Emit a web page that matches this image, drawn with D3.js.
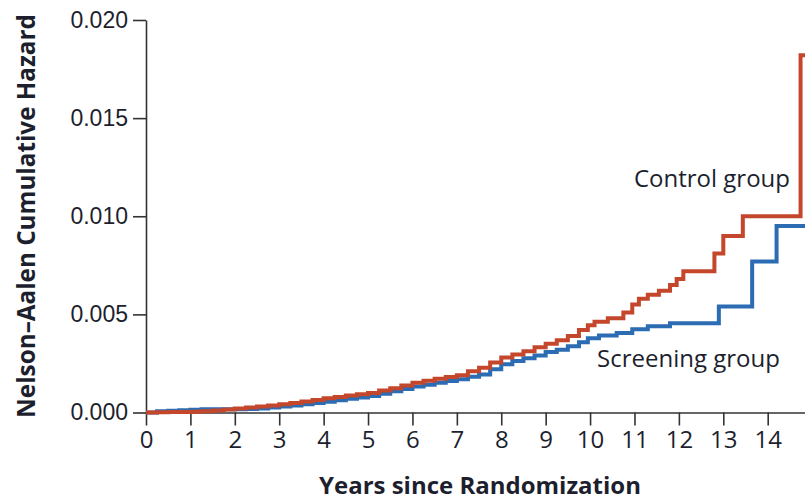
<!DOCTYPE html>
<html>
<head>
<meta charset="utf-8">
<script src="https://cdn.jsdelivr.net/npm/d3@7"></script>
<style>
  body { margin: 0; background: #fff; }
  svg { display: block; }
</style>
</head>
<body>
<script>
// Nelson-Aalen cumulative hazard (step-after points)
const controlYears = [0, 0.25, 0.5, 0.75, 1.0, 1.25, 1.5, 1.75, 2.0, 2.25, 2.5, 2.75, 3.0, 3.25, 3.5, 3.75, 4.0, 4.25, 4.5, 4.75, 5.0, 5.25, 5.5, 5.75, 6.0, 6.25, 6.5, 6.75, 7.0, 7.25, 7.5, 7.75, 8.0, 8.25, 8.5, 8.75, 9.0, 9.25, 9.5, 9.75, 9.95, 10.1, 10.4, 10.75, 10.95, 11.1, 11.3, 11.55, 11.8, 11.95, 12.1, 12.8, 13.0, 13.44, 14.74, 14.84];
const controlHazard = [0, 0.00001, 0.00002, 0.00003, 0.00004, 0.00006, 0.0001, 0.00015, 0.0002, 0.00025, 0.0003, 0.00036, 0.00042, 0.00049, 0.00056, 0.00064, 0.00072, 0.00079, 0.00086, 0.00093, 0.001, 0.00112, 0.00124, 0.00138, 0.00152, 0.00162, 0.00172, 0.00181, 0.0019, 0.0021, 0.00228, 0.00255, 0.0028, 0.00295, 0.00312, 0.00332, 0.0035, 0.00368, 0.0039, 0.0042, 0.00445, 0.00462, 0.0048, 0.0051, 0.0055, 0.0058, 0.006, 0.0062, 0.0065, 0.0068, 0.0072, 0.0081, 0.009, 0.01, 0.0182, 0.0182];

const screeningYears = [0, 0.25, 0.5, 0.75, 1.0, 1.25, 2.25, 2.5, 2.75, 3.0, 3.25, 3.5, 3.75, 4.0, 4.25, 4.5, 4.75, 5.0, 5.25, 5.5, 5.75, 6.0, 6.25, 6.5, 6.75, 7.0, 7.25, 7.5, 7.75, 8.0, 8.25, 8.5, 8.75, 9.0, 9.25, 9.5, 9.75, 9.95, 10.2, 10.6, 10.95, 11.3, 11.8, 12.9, 13.65, 14.2, 14.84];
const screeningHazard = [0, 0.00006, 0.00009, 0.00012, 0.00014, 0.00016, 0.00018, 0.00021, 0.00026, 0.0003, 0.00036, 0.00042, 0.00048, 0.00055, 0.00062, 0.0007, 0.00077, 0.00084, 0.00095, 0.00108, 0.0012, 0.00133, 0.00142, 0.00152, 0.00161, 0.0017, 0.00182, 0.00194, 0.0022, 0.00246, 0.00262, 0.00276, 0.0029, 0.00308, 0.0032, 0.00338, 0.00358, 0.00378, 0.00392, 0.00405, 0.00424, 0.0044, 0.00455, 0.0054, 0.0077, 0.0095, 0.0095];

const xTicks = d3.range(0, 15);
const yTicks = [0, 0.005, 0.010, 0.015, 0.020];

const width = 805, height = 501;
const font = "'Open Sans', 'DejaVu Sans', sans-serif";
const ink = "#1d1f2e";
const axisInk = "#333";

const x = d3.scaleLinear().domain([0, 14.84]).range([146, 805]);
const y = d3.scaleLinear().domain([0, 0.020]).range([412.5, 20]);

const svg = d3.select("body").append("svg")
  .attr("width", width)
  .attr("height", height)
  .attr("font-family", font);

// y axis
svg.append("g")
  .attr("transform", `translate(${x(0)},0)`)
  .call(d3.axisLeft(y).tickValues(yTicks).tickFormat(d3.format(".3f")).tickSize(13).tickSizeOuter(0).tickPadding(5))
  .call(g => g.selectAll("path, line").attr("stroke", axisInk).attr("stroke-width", 1.6))
  .call(g => g.selectAll("text").attr("fill", ink).attr("font-size", 23));

// x axis
svg.append("g")
  .attr("transform", `translate(0,${y(0)})`)
  .call(d3.axisBottom(x).tickValues(xTicks).tickFormat(d3.format("d")).tickSize(13).tickSizeOuter(0).tickPadding(5))
  .call(g => g.selectAll("path, line").attr("stroke", axisInk).attr("stroke-width", 1.6))
  .call(g => g.selectAll("text").attr("fill", ink).attr("font-size", 24)
    .attr("font-family", "'Liberation Sans Narrow', 'Open Sans', sans-serif"));

// curves
const line = d3.line().curve(d3.curveStepAfter)
  .x(d => x(d[0]))
  .y(d => y(d[1]));

const series = [
  {name: "Screening group", years: screeningYears, hazard: screeningHazard, color: "#2b6cb3"},
  {name: "Control group", years: controlYears, hazard: controlHazard, color: "#c4472c"}
];

series.forEach(s => {
  svg.append("path")
    .datum(d3.zip(s.years, s.hazard))
    .attr("fill", "none")
    .attr("stroke", s.color)
    .attr("stroke-width", 4)
    .attr("stroke-linejoin", "miter")
    .attr("d", line);
});

// fit a text element's font size so it spans a given width
function fitText(sel, target) {
  const w = sel.node().getComputedTextLength();
  const fs = +sel.attr("font-size");
  sel.attr("font-size", fs * target / w);
  return sel;
}

// group labels
fitText(svg.append("text")
  .attr("x", 634).attr("y", 187)
  .attr("fill", ink).attr("font-size", 24)
  .text("Control group"), 156);

fitText(svg.append("text")
  .attr("x", 597).attr("y", 367)
  .attr("fill", ink).attr("font-size", 24)
  .text("Screening group"), 183);

// axis titles
fitText(svg.append("text")
  .attr("x", 480).attr("y", 494)
  .attr("text-anchor", "middle")
  .attr("fill", ink).attr("font-weight", "bold").attr("font-size", 24)
  .text("Years since Randomization"), 322);

fitText(svg.append("text")
  .attr("transform", "translate(35,216) rotate(-90)")
  .attr("text-anchor", "middle")
  .attr("fill", ink).attr("font-weight", "bold").attr("font-size", 24)
  .text("Nelson\u2013Aalen Cumulative Hazard"), 404);
</script>
</body>
</html>
